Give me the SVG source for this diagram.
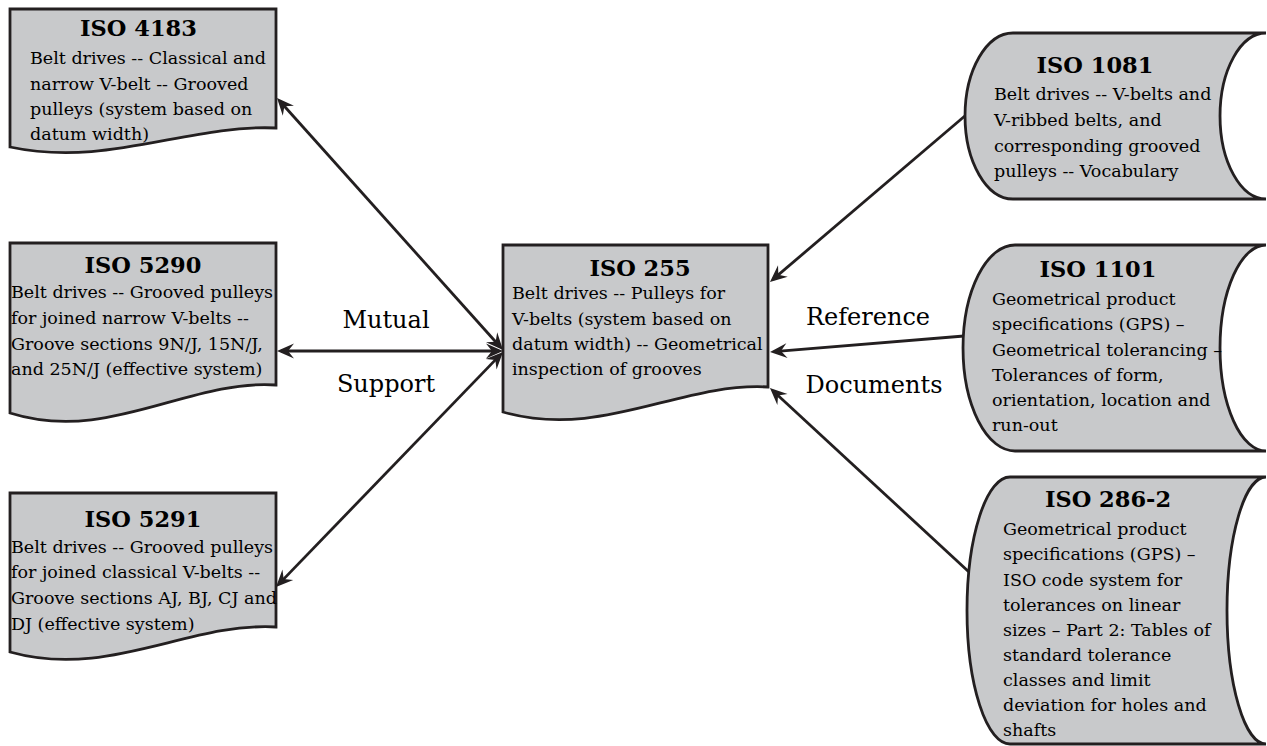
<svg xmlns="http://www.w3.org/2000/svg" width="1267" height="746" viewBox="0 0 1267 746">
  <style>
    .shape { fill: #c8c9cb; stroke: #231f20; stroke-width: 2.8; stroke-linejoin: miter; }
    .title { font-family: "DejaVu Serif", "Liberation Serif", serif; font-weight: bold; font-size: 22.5px; fill: #000; text-anchor: middle; }
    .body { font-family: "DejaVu Serif", "Liberation Serif", serif; font-size: 17.5px; fill: #000; }
    .label { font-family: "DejaVu Serif", "Liberation Serif", serif; font-size: 24px; fill: #000; text-anchor: middle; }
    .link { fill: none; stroke: #231f20; stroke-width: 2.8; }
  </style>
  <defs>
    <marker id="head" viewBox="-18 -9 20 18" refX="-4" refY="0" markerWidth="20" markerHeight="18" markerUnits="userSpaceOnUse" orient="auto-start-reverse">
      <path d="M0,0 L-17,-7.5 L-11,0 L-17,7.5 Z" fill="#231f20"/>
    </marker>
  </defs>

  <rect width="1267" height="746" fill="#ffffff"/>

  <!-- connectors -->
  <g id="connectors">
    <line class="link" x1="279.7" y1="101" x2="500.3" y2="347" marker-start="url(#head)" marker-end="url(#head)"/>
    <line class="link" x1="281" y1="351" x2="499" y2="351" marker-start="url(#head)" marker-end="url(#head)"/>
    <line class="link" x1="278.8" y1="584.1" x2="500.2" y2="354.9" marker-start="url(#head)" marker-end="url(#head)"/>
    <line class="link" x1="966" y1="115" x2="773" y2="279.4" marker-end="url(#head)"/>
    <line class="link" x1="964" y1="336" x2="774" y2="351.7" marker-end="url(#head)"/>
    <line class="link" x1="969" y1="572" x2="772.9" y2="390.7" marker-end="url(#head)"/>
  </g>

  <!-- relation labels -->
  <g id="labels">
    <text class="label" x="386" y="328">Mutual</text>
    <text class="label" x="386" y="392">Support</text>
    <text class="label" x="868" y="325">Reference</text>
    <text class="label" x="874" y="393">Documents</text>
  </g>

  <!-- document-shaped standards on the left -->
  <g id="iso4183">
    <path class="shape" d="M10,9 H276 V128 C188,124 108,168 10,147 Z"/>
    <text class="title" x="138.5" y="36">ISO 4183</text>
    <text class="body" x="30" y="64">Belt drives -- Classical and</text>
    <text class="body" x="30" y="90">narrow V-belt -- Grooved</text>
    <text class="body" x="30" y="115">pulleys (system based on</text>
    <text class="body" x="30" y="140">datum width)</text>
  </g>

  <g id="iso5290">
    <path class="shape" d="M10,243 H276 V385 C188,379 108,444 10,413 Z"/>
    <text class="title" x="143" y="273">ISO 5290</text>
    <text class="body" x="11" y="298">Belt drives -- Grooved pulleys</text>
    <text class="body" x="11" y="324">for joined narrow V-belts --</text>
    <text class="body" x="11" y="350">Groove sections 9N/J, 15N/J,</text>
    <text class="body" x="11" y="375">and 25N/J (effective system)</text>
  </g>

  <g id="iso5291">
    <path class="shape" d="M10,493 H276 V627 C188,622 108,679.5 10,652 Z"/>
    <text class="title" x="143" y="527">ISO 5291</text>
    <text class="body" x="11" y="553">Belt drives -- Grooved pulleys</text>
    <text class="body" x="11" y="578">for joined classical V-belts --</text>
    <text class="body" x="11" y="604">Groove sections AJ, BJ, CJ and</text>
    <text class="body" x="11" y="630">DJ (effective system)</text>
  </g>

  <!-- central standard -->
  <g id="iso255">
    <path class="shape" d="M503,245 H768 V387 C680,382 601,440 503,412 Z"/>
    <text class="title" x="640" y="276">ISO 255</text>
    <text class="body" x="512" y="299">Belt drives -- Pulleys for</text>
    <text class="body" x="512" y="325">V-belts (system based on</text>
    <text class="body" x="512" y="350">datum width) -- Geometrical</text>
    <text class="body" x="512" y="375">inspection of grooves</text>
  </g>

  <!-- stored-data shaped reference documents on the right -->
  <g id="iso1081">
    <path class="shape" d="M1013,33 H1266 A46,83 0 0 0 1266,199 H1013 A48,83 0 0 1 1013,33 Z"/>
    <text class="title" x="1095" y="73">ISO 1081</text>
    <text class="body" x="994" y="100">Belt drives -- V-belts and</text>
    <text class="body" x="994" y="126">V-ribbed belts, and</text>
    <text class="body" x="994" y="152">corresponding grooved</text>
    <text class="body" x="994" y="177">pulleys -- Vocabulary</text>
  </g>

  <g id="iso1101">
    <path class="shape" d="M1015,245 H1266 A46,103 0 0 0 1266,451 H1015 A52,103 0 0 1 1015,245 Z"/>
    <text class="title" x="1098" y="277">ISO 1101</text>
    <text class="body" x="992" y="305">Geometrical product</text>
    <text class="body" x="992" y="330">specifications (GPS) –</text>
    <text class="body" x="992" y="356">Geometrical tolerancing –</text>
    <text class="body" x="992" y="381">Tolerances of form,</text>
    <text class="body" x="992" y="406">orientation, location and</text>
    <text class="body" x="992" y="431">run-out</text>
  </g>

  <g id="iso286-2">
    <path class="shape" d="M1010,477 H1266 A39,133.5 0 0 0 1266,744 H1010 A43,133.5 0 0 1 1010,477 Z"/>
    <text class="title" x="1108" y="507">ISO 286-2</text>
    <text class="body" x="1003" y="535">Geometrical product</text>
    <text class="body" x="1003" y="560">specifications (GPS) –</text>
    <text class="body" x="1003" y="586">ISO code system for</text>
    <text class="body" x="1003" y="611">tolerances on linear</text>
    <text class="body" x="1003" y="636">sizes – Part 2: Tables of</text>
    <text class="body" x="1003" y="661">standard tolerance</text>
    <text class="body" x="1003" y="686">classes and limit</text>
    <text class="body" x="1003" y="711">deviation for holes and</text>
    <text class="body" x="1003" y="736">shafts</text>
  </g>
</svg>
